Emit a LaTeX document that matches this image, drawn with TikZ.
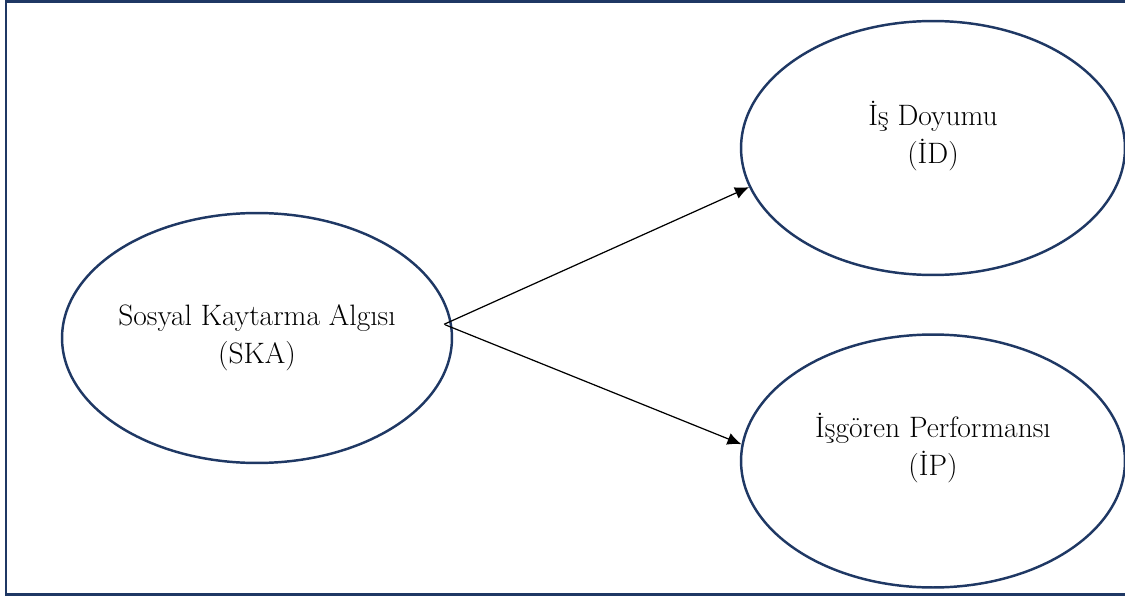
\documentclass[tikz,border=0pt]{standalone}
\usepackage{fontspec}
\usepackage{tikz}
\usetikzlibrary{shapes.geometric,arrows.meta}

\definecolor{navy}{HTML}{1F3864}

\tikzset{
  konstrukt/.style={draw=navy, line width=1.4pt, ellipse, inner sep=0pt},
  etiket/.style={align=center, inner sep=0pt, font=\fontsize{16.8}{21.5}\selectfont},
  yol/.style={-{Latex[length=8pt,width=7pt]}, black, line width=0.7pt}
}

\begin{document}
\begin{tikzpicture}[x=0.02cm, y=-0.02cm]

        \useasboundingbox (0,0) rectangle (1125,598);
        \draw[navy, line width=1.7pt] (1125,1.5) -- (6,1.5) -- (6,594.5) -- (1125,594.5);

        \node[konstrukt, minimum width=7.8cm, minimum height=5cm] (ska) at (257,338) {};
        \node[konstrukt, minimum width=7.68cm, minimum height=5.08cm] (id) at (933,148) {};
        \node[konstrukt, minimum width=7.68cm, minimum height=5.06cm] (ip) at (933,461) {};

        \node[etiket] (skatext) at (ska.center) {Sosyal Kaytarma Algısı\\(SKA)};
        \node[etiket] (idtext) at ([yshift=0.24cm]id.center) {İş Doyumu\\(İD)};
        \node[etiket] (iptext) at ([yshift=0.26cm]ip.center) {İşgören Performansı\\(İP)};

        \draw[yol, shorten <=-0.16cm] (ska.5) -- (id.192);
        \draw[yol, shorten <=-0.16cm] (ska.3) -- (ip.175);

\end{tikzpicture}
\end{document}
